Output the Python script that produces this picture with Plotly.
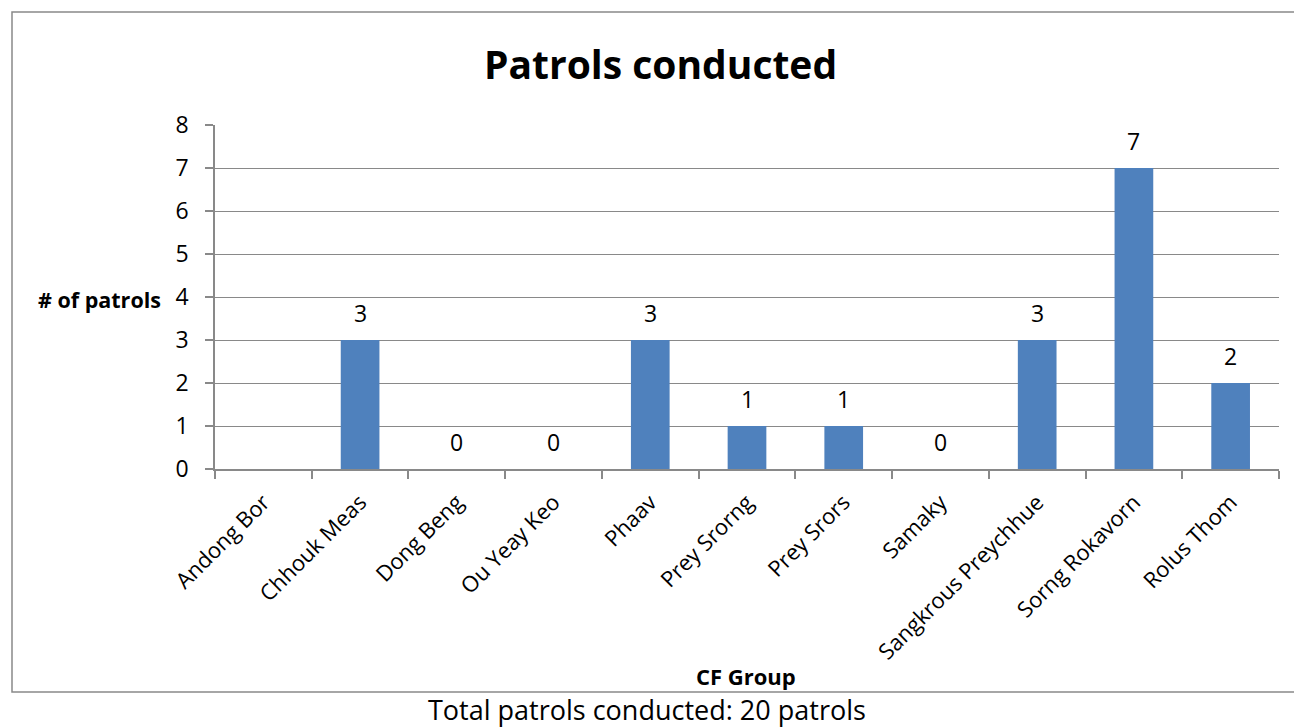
import plotly.graph_objects as go

categories = ["Andong Bor", "Chhouk Meas", "Dong Beng", "Ou Yeay Keo", "Phaav",
              "Prey Srorng", "Prey Srors", "Samaky", "Sangkrous Preychhue",
              "Sorng Rokavorn", "Rolus Thom"]
patrols = [None, 3, 0, 0, 3, 1, 1, 0, 3, 7, 2]
y_ticks = [0, 1, 2, 3, 4, 5, 6, 7, 8]

title_text = "Patrols conducted"
y_title = "# of patrols"
x_title = "CF Group"
footer = "Total patrols conducted: 20 patrols"

W, H = 1294, 728
L, R, T, B = 215, 1279, 125, 469  # plot area in px
FONT = "Open Sans"
GRAY = "#898989"

def px_x(px):
    return (px - L) / (R - L)

def px_y(py):
    return (B - py) / (B - T)

fig = go.Figure()
fig.add_trace(go.Bar(
    x=categories, y=patrols,
    marker=dict(color="#4F81BD", line=dict(width=0)),
    width=0.4,
    cliponaxis=False,
    hoverinfo="skip",
))

annotations = []
for c, v in zip(categories, patrols):
    if v is None:
        continue
    annotations.append(dict(x=c, y=v, xref="x", yref="y", text=str(v),
                            showarrow=False, yshift=27, yanchor="middle",
                            font=dict(family=FONT, size=23, color="#000000")))

annotations += [
    dict(x=px_x(660), y=px_y(64), xref="paper", yref="paper", text="<b>%s</b>" % title_text,
         showarrow=False, xanchor="center", yanchor="middle",
         font=dict(family=FONT, size=39, color="#000000")),
    dict(x=px_x(163), y=px_y(299), xref="paper", yref="paper", text="<b>%s</b>" % y_title,
         showarrow=False, xanchor="right", yanchor="middle",
         font=dict(family=FONT, size=21.5, color="#000000")),
    dict(x=px_x(746), y=px_y(676), xref="paper", yref="paper", text="<b>%s</b>" % x_title,
         showarrow=False, xanchor="center", yanchor="middle",
         font=dict(family=FONT, size=22, color="#000000")),
    dict(x=px_x(647), y=px_y(709), xref="paper", yref="paper", text=footer,
         showarrow=False, xanchor="center", yanchor="middle",
         font=dict(family=FONT, size=27, color="#000000")),
]

fig.update_layout(
    width=W, height=H,
    margin=dict(l=L, r=W - R, t=T, b=H - B, pad=0),
    paper_bgcolor="white", plot_bgcolor="white",
    showlegend=False,
    bargap=0.6,
    annotations=annotations,
    shapes=[dict(type="rect", xref="paper", yref="paper",
                 x0=px_x(12), x1=px_x(1310), y0=px_y(692), y1=px_y(12),
                 line=dict(color=GRAY, width=1.5), layer="below")],
    xaxis=dict(
        type="category", range=[-0.5, len(categories) - 0.5],
        showline=True, linecolor=GRAY, linewidth=1.5,
        ticks="outside", tickson="boundaries", ticklen=8, tickcolor=GRAY, tickwidth=1.5,
        tickangle=-45, showgrid=False, ticklabelstandoff=10,
        tickfont=dict(family=FONT, size=22, color="#000000"),
    ),
    yaxis=dict(
        range=[0, 8], tickvals=y_ticks,
        showline=True, linecolor=GRAY, linewidth=1.5,
        ticks="outside", ticklen=8, tickcolor=GRAY, tickwidth=1.5,
        showgrid=True, gridcolor=GRAY, gridwidth=1.2, zeroline=False,
        ticklabelstandoff=12,
        tickfont=dict(family=FONT, size=23, color="#000000"),
    ),
)

fig.write_html("out.html",
               config={"displayModeBar": False},
               post_script="document.body.style.margin='0';document.body.style.overflow='hidden';")
